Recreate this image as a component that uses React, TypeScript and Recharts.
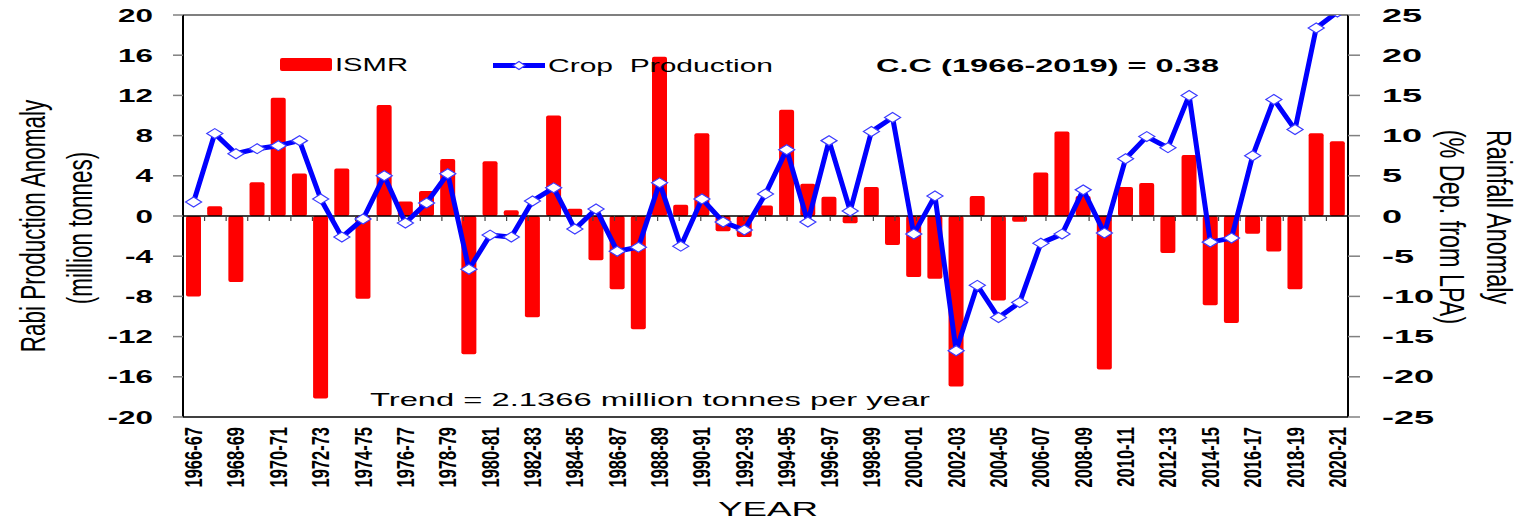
import { ComposedChart, Bar, Line, XAxis, YAxis, ReferenceLine } from 'recharts';

const seasons = [
  '1966-67', '1967-68', '1968-69', '1969-70', '1970-71', '1971-72', '1972-73', '1973-74', '1974-75', '1975-76',
  '1976-77', '1977-78', '1978-79', '1979-80', '1980-81', '1981-82', '1982-83', '1983-84', '1984-85', '1985-86',
  '1986-87', '1987-88', '1988-89', '1989-90', '1990-91', '1991-92', '1992-93', '1993-94', '1994-95', '1995-96',
  '1996-97', '1997-98', '1998-99', '1999-00', '2000-01', '2001-02', '2002-03', '2003-04', '2004-05', '2005-06',
  '2006-07', '2007-08', '2008-09', '2009-10', '2010-11', '2011-12', '2012-13', '2013-14', '2014-15', '2015-16',
  '2016-17', '2017-18', '2018-19', '2019-20', '2020-21',
];

// ISMR, % departure from LPA (right axis)
const ismrAnomaly = [
  -10.0, 1.2, -8.2, 4.2, 14.7, 5.3, -22.7, 5.9, -10.3, 13.8,
  1.8, 3.1, 7.1, -17.2, 6.8, 0.7, -12.6, 12.5, 0.9, -5.5,
  -9.1, -14.1, 19.8, 1.4, 10.3, -1.9, -2.6, 1.3, 13.2, 4.0,
  2.4, -0.9, 3.6, -3.6, -7.6, -7.8, -21.2, 2.5, -10.5, -0.7,
  5.4, 10.5, 2.5, -19.1, 3.6, 4.1, -4.6, 7.6, -11.1, -13.3,
  -2.2, -4.4, -9.1, 10.3, 9.3,
];

// Rabi production anomaly, million tonnes (left axis)
const cropAnomaly = [
  1.4, 8.2, 6.2, 6.7, 7.0, 7.5, 1.7, -2.1, -0.3, 4.0,
  -0.7, 1.3, 4.2, -5.3, -1.9, -2.1, 1.5, 2.8, -1.3, 0.7,
  -3.5, -3.1, 3.3, -3.0, 1.7, -0.6, -1.4, 2.2, 6.6, -0.6,
  7.5, 0.5, 8.4, 9.8, -1.8, 2.0, -13.4, -6.9, -10.1, -8.6,
  -2.7, -1.8, 2.6, -1.7, 5.7, 7.9, 6.8, 12.0, -2.6, -2.2,
  6.0, 11.6, 8.6, 18.7, 20.3,
];

const productionTicks = [-20, -16, -12, -8, -4, 0, 4, 8, 12, 16, 20];
const rainfallTicks = [-25, -20, -15, -10, -5, 0, 5, 10, 15, 20, 25];

const FONT = '"Liberation Sans", Arial, Helvetica, sans-serif';
const BLUE = '#0000ff';
const RED = '#ff0000';

const data = seasons.map((season, i) => ({
  season,
  ismr: ismrAnomaly[i],
  crop: cropAnomaly[i],
}));

// small marks on the zero line between seasons
const boundaries = seasons.slice(1).map((_, i) => i + 1);

const Diamond = (props: any) => {
  const { cx, cy } = props;
  if (cx == null || cy == null) return null;
  return (
    <path
      d={`M${cx - 8},${cy} L${cx},${cy - 5} L${cx + 8},${cy} L${cx},${cy + 5} Z`}
      fill="#fff"
      stroke="#3b3bff"
      strokeWidth={1.2}
    />
  );
};

const LeftTick = (props: any) => {
  const { x, y, payload } = props;
  return (
    <g transform={`translate(${x},${y}) scale(1.7,1)`}>
      <text textAnchor="end" dy="0.36em" fontFamily={FONT} fontWeight="bold" fontSize={18.5} fill="#000">
        {payload.value}
      </text>
    </g>
  );
};

const RightTick = (props: any) => {
  const { x, y, payload } = props;
  return (
    <g transform={`translate(${x},${y}) scale(1.95,1)`}>
      <text textAnchor="start" dy="0.36em" fontFamily={FONT} fontWeight="bold" fontSize={18.5} fill="#000">
        {payload.value}
      </text>
    </g>
  );
};

const SeasonTick = (props: any) => {
  const { x, y, payload } = props;
  return (
    <g transform={`translate(${x + 8.5},${y}) scale(1.45,1) rotate(-90)`}>
      <text textAnchor="end" fontFamily={FONT} fontWeight="bold" fontSize={16.5} fill="#000">
        {payload.value}
      </text>
    </g>
  );
};

const LeftTitle = () => (
  <g fontFamily={FONT} fontSize={22.5} fill="#000">
    <g transform="translate(32,226) scale(1.6,1) rotate(-90)">
      <text textAnchor="middle" dy="0.35em">Rabi Production Anomaly</text>
    </g>
    <g transform="translate(79,228) scale(1.6,1) rotate(-90)">
      <text textAnchor="middle" dy="0.35em">(million tonnes)</text>
    </g>
  </g>
);

const RightTitle = () => (
  <g fontFamily={FONT} fontSize={23.4} fill="#000">
    <g transform="translate(1499,217) scale(1.5,1) rotate(90)">
      <text textAnchor="middle" dy="0.35em">Rainfall Anomaly</text>
    </g>
    <g transform="translate(1452,227) scale(1.5,1) rotate(90)">
      <text textAnchor="middle" dy="0.35em">(% Dep. from LPA)</text>
    </g>
  </g>
);

const XTitle = () => (
  <text x={718} y={516} fontFamily={FONT} fontSize={21} textLength={100} lengthAdjust="spacingAndGlyphs" fill="#000">
    YEAR
  </text>
);

// legend, correlation and trend notes, drawn over the bars
const Annotations = () => (
  <g fontFamily={FONT} fill="#000">
    <rect x={280} y={58} width={52} height={13} rx={2} fill={RED} />
    <text x={335} y={71} fontSize={18} textLength={73} lengthAdjust="spacingAndGlyphs">ISMR</text>
    <line x1={493} y1={65.5} x2={545} y2={65.5} stroke={BLUE} strokeWidth={5} />
    <path d="M513,65.5 L519,61.5 L525,65.5 L519,69.5 Z" fill="#fff" stroke="#3b3bff" strokeWidth={1.2} />
    <text x={548} y={71.5} fontSize={18} textLength={225} lengthAdjust="spacingAndGlyphs" style={{ whiteSpace: 'pre' }}>
      Crop  Production
    </text>
    <text x={876} y={71.5} fontSize={18.5} fontWeight="bold" textLength={343} lengthAdjust="spacingAndGlyphs">
      C.C (1966-2019) = 0.38
    </text>
    <text x={370} y={406} fontSize={18.5} textLength={560} lengthAdjust="spacingAndGlyphs">
      Trend = 2.1366 million tonnes per year
    </text>
  </g>
);

export default function App() {
  return (
    <div style={{ position: 'absolute', left: 0, top: 0, width: 1532, height: 520, background: '#fff' }}>
      <ComposedChart
        width={1532}
        height={520}
        data={data}
        margin={{ top: 15, right: 84, bottom: 13, left: 83 }}
      >
        <XAxis
          xAxisId="cat"
          dataKey="season"
          interval={1}
          height={90}
          tickSize={0}
          tickMargin={10}
          tickLine={false}
          axisLine={{ stroke: '#000', strokeWidth: 1.5 }}
          tick={<SeasonTick />}
          label={{ content: XTitle }}
        />
        <XAxis xAxisId="idx" type="number" domain={[0, seasons.length]} hide />
        <YAxis
          yAxisId="prod"
          domain={[-20, 20]}
          ticks={productionTicks}
          interval={0}
          allowDataOverflow
          width={100}
          tickSize={10}
          tickMargin={20}
          axisLine={{ stroke: '#000', strokeWidth: 2 }}
          tickLine={{ stroke: '#808080', strokeWidth: 1.5 }}
          tick={<LeftTick />}
          label={{ content: LeftTitle }}
        />
        <YAxis
          yAxisId="rain"
          orientation="right"
          domain={[-25, 25]}
          ticks={rainfallTicks}
          interval={0}
          allowDataOverflow
          width={100}
          tickSize={12}
          tickMargin={22}
          axisLine={{ stroke: '#000', strokeWidth: 2 }}
          tickLine={{ stroke: '#808080', strokeWidth: 1.5 }}
          tick={<RightTick />}
          label={{ content: RightTitle }}
        />
        <Bar
          xAxisId="cat"
          yAxisId="rain"
          dataKey="ismr"
          name="ISMR"
          fill={RED}
          barSize={15}
          radius={2}
          isAnimationActive={false}
        />
        <ReferenceLine xAxisId="cat" yAxisId="prod" y={0} stroke="#000" strokeWidth={1.5} />
        {boundaries.map((b) => (
          <ReferenceLine
            key={b}
            xAxisId="idx"
            yAxisId="prod"
            segment={[{ x: b, y: 0 }, { x: b, y: -0.5 }]}
            stroke="#444"
            strokeWidth={1.2}
          />
        ))}
        <Line
          xAxisId="cat"
          yAxisId="prod"
          dataKey="crop"
          name="Crop Production"
          stroke={BLUE}
          strokeWidth={5}
          strokeLinejoin="round"
          dot={<Diamond />}
          activeDot={false}
          isAnimationActive={false}
        />
        <ReferenceLine
          xAxisId="cat"
          yAxisId="prod"
          y={20}
          stroke="#555"
          strokeWidth={1.5}
          label={{ content: Annotations }}
        />
      </ComposedChart>
    </div>
  );
}
